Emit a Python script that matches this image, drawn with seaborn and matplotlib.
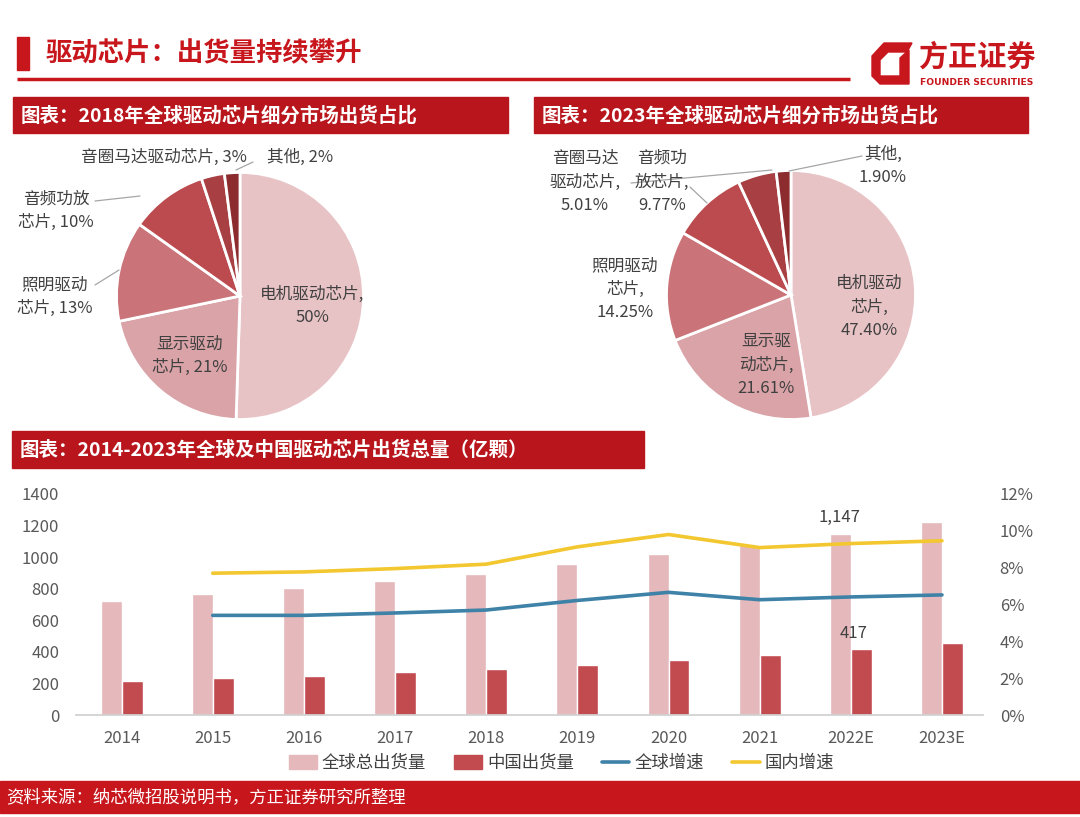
import warnings; warnings.filterwarnings('ignore')
import numpy as np, pandas as pd, matplotlib
matplotlib.use('Agg')
import matplotlib.pyplot as plt
import matplotlib.patches as mpatches
from matplotlib.lines import Line2D
from matplotlib.ticker import PercentFormatter
import seaborn as sns

sns.set_theme(style='white')
plt.rcParams['font.family'] = ['Noto Sans CJK SC', 'DejaVu Sans']

W, H = 1080, 817
RED = '#c8161d'
GREY = '#595959'
TXT = '#404040'

# ── data ───────────────────────────────────────────────────────
pie_cats = ['电机驱动芯片', '显示驱动芯片', '照明驱动芯片', '音频功放芯片', '音圈马达驱动芯片', '其他']
share_2018 = [50, 21, 13, 10, 3, 2]
share_2023 = [47.40, 21.61, 14.25, 9.77, 5.01, 1.90]
pie_colors = ['#e8c3c5', '#d9a3a8', '#ca7479', '#bb4b4f', '#a83f43', '#8c2c2f']

years = ['2014', '2015', '2016', '2017', '2018', '2019', '2020', '2021', '2022E', '2023E']
global_ship = [724, 765, 805, 850, 896, 955, 1017, 1080, 1147, 1224]
china_ship = [216, 233, 250, 271, 292, 318, 350, 381, 417, 458]
growth_years = years[1:]
global_growth = [5.41, 5.41, 5.54, 5.70, 6.22, 6.66, 6.26, 6.41, 6.52]
china_growth = [7.70, 7.77, 7.95, 8.19, 9.13, 9.80, 9.09, 9.31, 9.46]

bar_names = ['全球总出货量', '中国出货量']
line_names = ['全球增速', '国内增速']
bar_colors = ['#e5b8bb', '#c24b50']
line_colors = ['#3f82a8', '#f3c72f']

fig = plt.figure(figsize=(W / 100, H / 100), dpi=100)
fig.patch.set_facecolor('white')

# ── pies ───────────────────────────────────────────────────────
def pie_ax(cx, cy, r, vals):
    ax = fig.add_axes([(cx - r) / W, 1 - (cy + r) / H, 2 * r / W, 2 * r / H])
    ax.pie(vals, colors=pie_colors, startangle=90, counterclock=False,
           wedgeprops={'edgecolor': 'white', 'linewidth': 2})
    ax.set_xlim(-1.02, 1.02); ax.set_ylim(-1.02, 1.02)
    ax.patch.set_visible(False)
    return ax

pie_ax(240, 296, 126, share_2018)
pie_ax(791, 295, 127, share_2023)

# ── bars + growth lines ─────────────────────────────────────────
ax = fig.add_axes([76 / W, 1 - 715 / H, 907 / W, 221 / H])
df = pd.DataFrame({'year': years * 2,
                   'value': global_ship + china_ship,
                   'series': [bar_names[0]] * len(years) + [bar_names[1]] * len(years)})
sns.barplot(data=df, x='year', y='value', hue='series', palette=bar_colors,
            width=0.46, saturation=1, ax=ax, legend=False)
ax.set_ylim(0, 1400)
ax.set_yticks(range(0, 1401, 200))
ax.set_xlim(-0.5, 9.45)
ax.set_xlabel(''); ax.set_ylabel('')
for s in ['top', 'left', 'right']:
    ax.spines[s].set_visible(False)
ax.spines['bottom'].set_color('#d0d0d0')
ax.tick_params(length=0, labelsize=12, colors=GREY)
ax.tick_params(axis='y', pad=12)
ax.tick_params(axis='x', pad=11)
ax.patch.set_visible(False)

ax2 = ax.twinx()
gpos = [years.index(y) for y in growth_years]
sns.lineplot(x=gpos, y=global_growth, ax=ax2, color=line_colors[0], lw=2.6)
sns.lineplot(x=gpos, y=china_growth, ax=ax2, color=line_colors[1], lw=2.6)
ax2.set_ylim(0, 12)
ax2.set_yticks(range(0, 13, 2))
ax2.yaxis.set_major_formatter(PercentFormatter(100, decimals=0))
ax2.set_xlim(-0.5, 9.45)
for s in ax2.spines.values():
    s.set_visible(False)
ax2.tick_params(length=0, labelsize=12, colors=GREY, pad=12)
ax2.set_ylabel('')

i22 = years.index('2022E')
ax2.text(i22 - 0.13, 10.75, f'{global_ship[i22]:,}', ha='center', va='center',
         fontsize=12, color=TXT)
ax2.text(i22 + 0.03, 4.45, f'{china_ship[i22]}', ha='center', va='center',
         fontsize=12, color=TXT)

handles = [mpatches.Patch(color=bar_colors[0], label=bar_names[0]),
           mpatches.Patch(color=bar_colors[1], label=bar_names[1]),
           Line2D([], [], color=line_colors[0], lw=2.6, label=line_names[0]),
           Line2D([], [], color=line_colors[1], lw=2.6, label=line_names[1])]
leg = fig.legend(handles=handles, loc='center', bbox_to_anchor=(0.52, 1 - 763 / H),
                 ncol=4, frameon=False, fontsize=12.5, handlelength=1.6,
                 handleheight=0.8, handletextpad=0.3, columnspacing=1.6)
for t in leg.get_texts():
    t.set_color(TXT)

# ── page furniture + pie labels ────────────────────────────────
ov = fig.add_axes([0, 0, 1, 1])
ov.set_xlim(0, W); ov.set_ylim(H, 0); ov.axis('off')
ov.patch.set_visible(False)

# title
ov.add_patch(mpatches.Rectangle((17, 37), 12, 33, color=RED))
ov.text(46, 54, '驱动芯片：出货量持续攀升', fontsize=19, fontweight='bold',
        color=RED, va='center', ha='left')
ov.plot([17, 850], [79, 79], color=RED, lw=2.5, solid_capstyle='butt')

# logo
ov.add_patch(mpatches.Polygon([(884, 43), (912, 43), (907, 52), (888, 52), (880, 60),
                               (880, 76), (900, 76), (900, 58), (909, 50), (909, 84),
                               (880, 84), (872, 76), (872, 56)], closed=True, color=RED))
ov.text(919, 57, '方正证券', fontsize=21, fontweight='bold', color=RED,
        va='center', ha='left')
ov.text(920, 82, 'FOUNDER SECURITIES', fontsize=6.6, fontweight='bold', color=RED,
        va='center', ha='left', family=['DejaVu Sans'])

# section header boxes
for (x0, y0, x1, y1, txt) in [(13, 97, 508, 133, '图表：2018年全球驱动芯片细分市场出货占比'),
                              (534, 97, 1028, 133, '图表：2023年全球驱动芯片细分市场出货占比'),
                              (12, 431, 644, 468, '图表：2014-2023年全球及中国驱动芯片出货总量（亿颗）')]:
    ov.add_patch(mpatches.Rectangle((x0, y0), x1 - x0, y1 - y0, color='#b8161c'))
    ov.text(x0 + 8, (y0 + y1) / 2 + 1, txt, fontsize=14, fontweight='bold',
            color='white', va='center', ha='left')

# footer
ov.add_patch(mpatches.Rectangle((0, 781), W, 32, color=RED))
ov.text(6, 797, '资料来源：纳芯微招股说明书，方正证券研究所整理', fontsize=12.5,
        color='white', va='center', ha='left')

# pie labels
lab_kw = dict(fontsize=12, color=TXT, ha='center', va='center',
              multialignment='center', linespacing=1.5)
ov.text(312, 306, f'电机驱动芯片,\n{share_2018[0]}%', **lab_kw)
ov.text(190, 356, f'显示驱动\n芯片, {share_2018[1]}%', **lab_kw)
ov.text(55, 297, f'照明驱动\n芯片, {share_2018[2]}%', **lab_kw)
ov.text(56, 211, f'音频功放\n芯片, {share_2018[3]}%', **lab_kw)
ov.text(164, 157, f'音圈马达驱动芯片, {share_2018[4]}%', **lab_kw)
ov.text(300, 157, f'其他, {share_2018[5]}%', **lab_kw)
for (x1, y1, x2, y2) in [(95, 201, 140, 196), (95, 285, 119, 270), (253, 162, 236, 170)]:
    ov.plot([x1, x2], [y1, y2], color='#a6a6a6', lw=0.9)

ov.text(869, 307, f'电机驱动\n芯片,\n{share_2023[0]:.2f}%', **lab_kw)
ov.text(766, 365, f'显示驱\n动芯片,\n{share_2023[1]:.2f}%', **lab_kw)
ov.text(625, 289, f'照明驱动\n芯片,\n{share_2023[2]:.2f}%', **lab_kw)
ov.text(662, 182, f'音频功\n放芯片,\n{share_2023[3]:.2f}%', **lab_kw)
ov.text(585, 182, f'音圈马达\n驱动芯片,\n{share_2023[4]:.2f}%', **lab_kw)
ov.text(883, 166, f'其他,\n{share_2023[5]:.2f}%', **lab_kw)
for (x1, y1, x2, y2) in [(862, 156, 789, 171), (631, 183, 772, 170), (690, 187, 707, 203)]:
    ov.plot([x1, x2], [y1, y2], color='#a6a6a6', lw=0.9, zorder=0)

fig.savefig('out.png', dpi=100)
plt.close(fig)
print('saved out.png')
